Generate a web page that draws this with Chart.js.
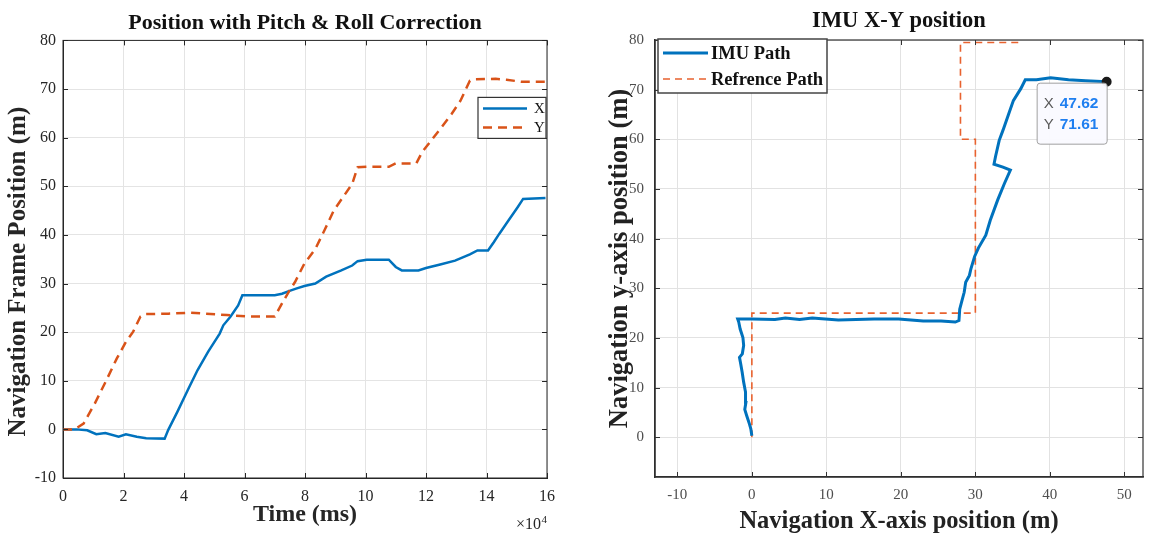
<!DOCTYPE html>
<html>
<head>
<meta charset="utf-8">
<script src="https://cdn.jsdelivr.net/npm/chart.js@4.4.0/dist/chart.umd.min.js"></script>
<style>
  html, body { margin: 0; padding: 0; background: #fff; }
  #wrap { position: relative; width: 1150px; height: 538px; overflow: hidden; }
  #posChart { position: absolute; left: 0; top: 0; }
  #xyChart { position: absolute; left: 580px; top: 0; }
</style>
</head>
<body>
<div id="wrap">
  <canvas id="posChart" width="575" height="538"></canvas>
  <canvas id="xyChart" width="570" height="538"></canvas>
</div>
<script>
const SERIF = "'Liberation Serif', 'Times New Roman', serif";
const SANS = "'Liberation Sans', Arial, sans-serif";

// Position vs time (time in ms, position in m)
const timeX = [0, 4400, 8000, 11000, 14000, 18400, 20800, 24400, 27500, 33600, 34800, 37800, 41500,
  44500, 48000, 51800, 53000, 55400, 57900, 59300, 70000, 72400, 74900, 77300, 79800, 83400, 87000,
  92000, 95600, 97400, 100400, 107700, 110000, 112000, 117500, 120000, 124700, 129600, 134500,
  137000, 140500, 142400, 144200, 147200, 150300, 152100, 159500];
const posX = [0, 0, -0.2, -1.0, -0.75, -1.5, -1.0, -1.5, -1.8, -1.9, -0.1, 3.6, 8.4,
  12.2, 16, 19.7, 21.4, 23.2, 25.5, 27.6, 27.6, 27.9, 28.5, 29.0, 29.5, 30.0, 31.4,
  32.7, 33.7, 34.6, 34.9, 34.9, 33.4, 32.7, 32.7, 33.2, 33.9, 34.7, 36.0,
  36.8, 36.8, 38.5, 40.2, 42.9, 45.7, 47.4, 47.6];

const timeY = [0, 3800, 6800, 10500, 14100, 17800, 20800, 23200, 25600, 26900, 34800, 42000, 47000,
  54200, 61500, 70000, 72400, 74900, 76700, 79800, 83400, 86400, 89500, 92500, 95600, 97400,
  100400, 107700, 110000, 116800, 118700, 121700, 124700, 128400, 131400, 134500, 135700,
  143000, 146600, 151500, 159500];
const posY = [0, 0, 1.2, 5.3, 9.8, 14.6, 18.0, 20.1, 23.2, 23.7, 23.8, 24.0, 23.8,
  23.5, 23.2, 23.2, 25.9, 28.6, 30.3, 34.1, 37.1, 40.9, 45.0, 47.7, 50.5, 53.9,
  54.0, 54.0, 54.7, 54.7, 57.0, 59.4, 61.8, 64.8, 67.6, 71.7, 72.0,
  72.1, 71.9, 71.5, 71.5];

const timeTicks = [0, 2, 4, 6, 8, 10, 12, 14, 16];   // x 10^4 ms

// IMU track in the navigation frame
const imuX = [0, -0.14, -0.33, -0.7, -0.95, -0.8, -0.85, -1.1, -1.3, -1.5, -1.66, -1.28, -1.1, -1.2,
  -1.57, -1.76, -1.9, 0, 3.1, 4.5, 6.4, 8.1, 11.6, 16.4, 19.7, 23.0, 25.4, 27.3, 27.8, 27.9,
  28.2, 28.5, 28.7, 29.2, 29.4, 29.9, 30.4, 31.4, 32.0, 33.0, 33.9, 34.7, 33.7, 32.5, 32.7,
  33.2, 33.7, 34.4, 35.1, 36.1, 36.7, 38.2, 40.1, 42.5, 44.8, 47.62];
const imuY = [0.3, 1.7, 2.7, 4.4, 5.6, 7.0, 9.1, 11.1, 13.1, 14.8, 16.1, 16.8, 18.5, 20.1,
  21.8, 23.2, 23.8, 23.8, 23.7, 24.0, 23.7, 24.0, 23.6, 23.8, 23.8, 23.4, 23.4, 23.2, 23.5, 25.8,
  27.5, 29.2, 31.2, 32.6, 33.9, 36.4, 38.1, 40.7, 43.7, 47.8, 51.1, 53.8, 54.4, 55.0, 56.5,
  59.8, 61.8, 64.8, 67.8, 70.2, 72.0, 72.0, 72.4, 72.0, 71.8, 71.61];

// planned route
const refX = [0, 0, 30, 30, 28, 28, 36];
const refY = [0, 25, 25, 60, 60, 79.5, 79.5];

const BLUE = '#0072BD';
const ORANGE = '#D95319';

function pairs(xs, ys) {
  return xs.map((x, i) => ({ x: x, y: ys[i] }));
}

// MATLAB-style frame: full box, inward ticks, boxed legend, exponent, data tip
const matlabFrame = {
  id: 'matlabFrame',
  afterDatasetsDraw(chart, args, opts) {
    const { ctx, chartArea: a, scales } = chart;
    ctx.save();
    ctx.strokeStyle = opts.frameColor;
    ctx.lineWidth = opts.frameWidth;
    ctx.strokeRect(a.left, a.top, a.right - a.left, a.bottom - a.top);
    ctx.lineWidth = 1;
    const len = 5;
    ctx.beginPath();
    scales.x.ticks.forEach(t => {
      const px = Math.round(scales.x.getPixelForValue(t.value)) + 0.5;
      ctx.moveTo(px, a.bottom); ctx.lineTo(px, a.bottom - len);
      ctx.moveTo(px, a.top); ctx.lineTo(px, a.top + len);
    });
    scales.y.ticks.forEach(t => {
      const py = Math.round(scales.y.getPixelForValue(t.value)) + 0.5;
      ctx.moveTo(a.left, py); ctx.lineTo(a.left + len, py);
      ctx.moveTo(a.right, py); ctx.lineTo(a.right - len, py);
    });
    ctx.stroke();
    ctx.restore();
  },
  afterDraw(chart, args, opts) {
    const { ctx, chartArea: a, scales } = chart;
    ctx.save();
    if (opts.legend) {
      const L = opts.legend;
      const bx = L.alignRight ? a.right - L.dx - L.w : a.left + L.dx;
      const by = a.top + L.dy;
      ctx.fillStyle = '#fff';
      ctx.fillRect(bx, by, L.w, L.h);
      ctx.strokeStyle = L.border;
      ctx.lineWidth = L.borderWidth;
      ctx.strokeRect(bx, by, L.w, L.h);
      chart.data.datasets.forEach((ds, i) => {
        const y = by + L.rows[i];
        ctx.strokeStyle = ds.borderColor;
        ctx.lineWidth = ds.borderWidth;
        ctx.setLineDash(ds.borderDash || []);
        ctx.beginPath();
        ctx.moveTo(bx + L.line[0], y);
        ctx.lineTo(bx + L.line[1], y);
        ctx.stroke();
        ctx.setLineDash([]);
        ctx.fillStyle = '#111';
        ctx.font = L.font;
        ctx.textAlign = 'left';
        ctx.textBaseline = 'middle';
        ctx.fillText(ds.label, bx + L.textX, y + 1);
      });
    }
    if (opts.exponent) {
      ctx.fillStyle = '#262626';
      ctx.textBaseline = 'alphabetic';
      ctx.textAlign = 'right';
      ctx.font = '11px ' + SERIF;
      ctx.fillText(opts.exponent, a.right, a.bottom + 45);
      const w = ctx.measureText(opts.exponent).width;
      ctx.font = '16px ' + SERIF;
      ctx.fillText('\u00d710', a.right - w - 0.5, a.bottom + 51);
    }
    if (opts.datatip) {
      const ds = chart.data.datasets[opts.datatip.dataset];
      const p = ds.data[ds.data.length - 1];
      const px = scales.x.getPixelForValue(p.x);
      const py = scales.y.getPixelForValue(p.y);
      const bx = px - 70, by = py + 1, bw = 70, bh = 61;
      ctx.fillStyle = 'rgba(250,250,255,0.96)';
      ctx.strokeStyle = '#a0a0a0';
      ctx.lineWidth = 1;
      ctx.beginPath();
      ctx.roundRect(bx + 0.5, by + 0.5, bw, bh, 3);
      ctx.fill();
      ctx.stroke();
      ctx.textAlign = 'left';
      ctx.textBaseline = 'middle';
      [['X', p.x], ['Y', p.y]].forEach((row, i) => {
        const y = by + 21 + i * 21;
        ctx.font = '15px ' + SANS;
        ctx.fillStyle = '#5a5a5a';
        ctx.fillText(row[0], bx + 7, y);
        ctx.font = 'bold 15.5px ' + SANS;
        ctx.fillStyle = '#1f7ff0';
        ctx.fillText(row[1].toFixed(2), bx + 23, y);
      });
    }
    ctx.restore();
  }
};

Chart.register(matlabFrame);

// Left: X / Y position over time
new Chart(document.getElementById('posChart'), {
  type: 'line',
  data: {
    datasets: [
      {
        label: 'X',
        data: pairs(timeX, posX),
        borderColor: BLUE,
        borderWidth: 2.5,
        pointRadius: 0,
        order: 1
      },
      {
        label: 'Y',
        data: pairs(timeY, posY),
        borderColor: ORANGE,
        borderWidth: 2.5,
        borderDash: [9, 6],
        pointRadius: 0,
        order: 0
      }
    ]
  },
  options: {
    responsive: false,
    animation: false,
    layout: { padding: { left: 0, right: 28, top: 0, bottom: 0 } },
    scales: {
      x: {
        type: 'linear',
        min: 0,
        max: 160000,
        afterBuildTicks: s => { s.ticks = timeTicks.map(v => ({ value: v * 1e4 })); },
        ticks: {
          padding: 9,
          color: '#262626',
          font: { family: SERIF, size: 16 },
          maxRotation: 0,
          callback: v => v / 1e4
        },
        grid: { color: '#e4e4e4', drawTicks: false },
        border: { color: '#262626', width: 1 },
        title: {
          display: true,
          text: 'Time (ms)',
          color: '#262626',
          font: { family: SERIF, size: 24, weight: 'bold' },
          padding: { top: 0, bottom: 9 }
        },
        afterFit: s => { s.height = 60; }
      },
      y: {
        min: -10,
        max: 80,
        ticks: {
          stepSize: 10,
          padding: 7,
          color: '#262626',
          font: { family: SERIF, size: 16 }
        },
        grid: { color: '#e4e4e4', drawTicks: false },
        border: { color: '#262626', width: 1 },
        title: {
          display: true,
          // trailing spaces nudge the label toward the lower end of the axis
          text: 'Navigation Frame Position (m)    ',
          color: '#262626',
          font: { family: SERIF, size: 25, weight: 'bold' },
          padding: { top: 4, bottom: 0 }
        },
        afterFit: s => { s.width = 63; }
      }
    },
    plugins: {
      legend: { display: false },
      tooltip: { enabled: false },
      title: {
        display: true,
        fullSize: false,
        text: 'Position with Pitch & Roll Correction',
        color: '#111',
        font: { family: SERIF, size: 22, weight: 'bold' },
        padding: { top: 10, bottom: 4 }
      },
      matlabFrame: {
        frameColor: '#262626',
        frameWidth: 1,
        exponent: '4',
        legend: {
          alignRight: true, dx: 1, dy: 57, w: 68, h: 41,
          border: '#333', borderWidth: 1.2,
          rows: [11, 30], line: [5, 49], textX: 56,
          font: '15px ' + SERIF
        }
      }
    }
  }
});

// Right: IMU track vs planned route
new Chart(document.getElementById('xyChart'), {
  type: 'line',
  data: {
    datasets: [
      {
        label: 'IMU Path',
        data: pairs(imuX, imuY),
        borderColor: BLUE,
        borderWidth: 3,
        pointRadius: c => (c.dataIndex === imuX.length - 1 ? 3.5 : 0),
        pointBackgroundColor: '#1a1a1a',
        pointBorderColor: '#1a1a1a',
        order: 0
      },
      {
        label: 'Refrence Path',
        data: pairs(refX, refY),
        borderColor: '#E8622F',
        borderWidth: 1.6,
        borderDash: [7, 5],
        pointRadius: 0,
        order: 1
      }
    ]
  },
  options: {
    responsive: false,
    animation: false,
    layout: { padding: { left: 0, right: 2, top: 0, bottom: 0 } },
    scales: {
      x: {
        type: 'linear',
        min: -13,
        max: 52.5,
        ticks: {
          stepSize: 10,
          includeBounds: false,
          padding: 9,
          color: '#4d4d4d',
          font: { family: SERIF, size: 15 },
          maxRotation: 0
        },
        grid: { color: '#e2e2e2', drawTicks: false },
        border: { color: '#2a2a2a', width: 1.5 },
        title: {
          display: true,
          text: 'Navigation X-axis position (m)',
          color: '#222',
          font: { family: SERIF, size: 24.5, weight: 'bold' },
          padding: { top: 0, bottom: 2 }
        },
        afterFit: s => { s.height = 61; }
      },
      y: {
        min: -8,
        max: 80,
        ticks: {
          stepSize: 10,
          includeBounds: false,
          padding: 11,
          color: '#4d4d4d',
          font: { family: SERIF, size: 15 }
        },
        grid: { color: '#e2e2e2', drawTicks: false },
        border: { color: '#2a2a2a', width: 1.5 },
        title: {
          display: true,
          text: 'Navigation y-axis position (m)',
          color: '#222',
          font: { family: SERIF, size: 26.5, weight: 'bold' },
          padding: { top: 24, bottom: 0 }
        },
        afterFit: s => { s.width = 75; }
      }
    },
    plugins: {
      legend: { display: false },
      tooltip: { enabled: false },
      title: {
        display: true,
        fullSize: false,
        text: 'IMU X-Y position',
        color: '#111',
        font: { family: SERIF, size: 22.5, weight: 'bold' },
        padding: { top: 8, bottom: 5 }
      },
      matlabFrame: {
        frameColor: '#333',
        frameWidth: 1.2,
        datatip: { dataset: 0 },
        legend: {
          alignRight: false, dx: 3, dy: -1, w: 169, h: 54,
          border: '#444', borderWidth: 1.5,
          rows: [14, 40], line: [5, 50], textX: 53,
          font: 'bold 18.5px ' + SERIF
        }
      }
    }
  }
});
</script>
</body>
</html>
